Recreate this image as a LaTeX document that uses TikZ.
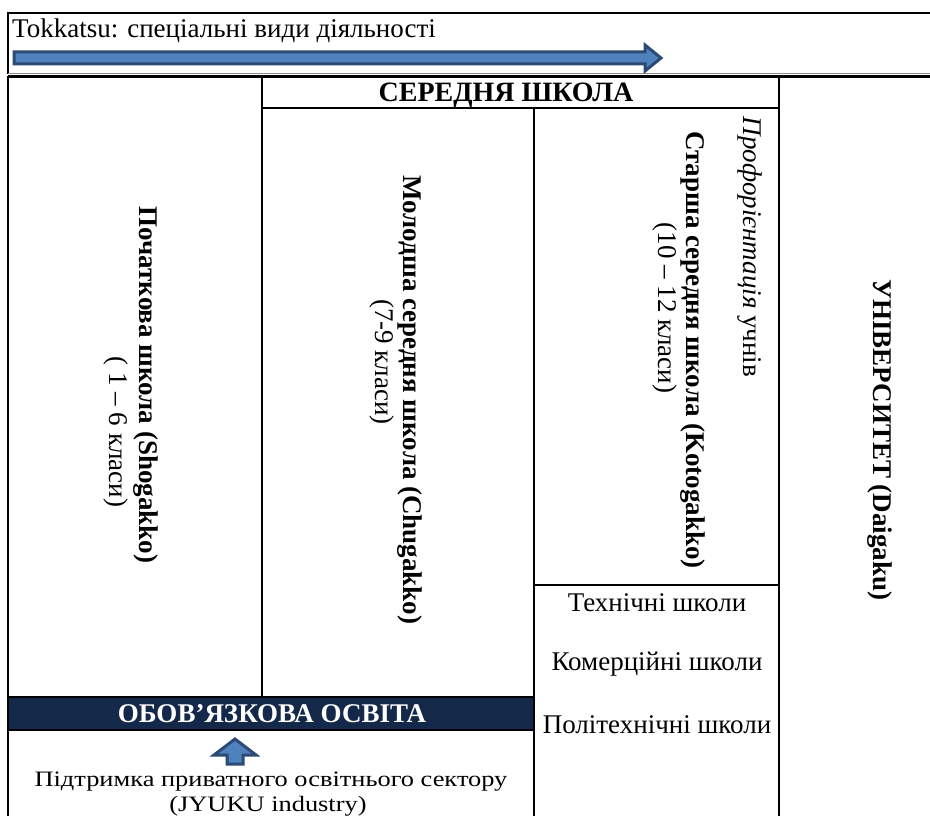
\documentclass[tikz,border=0pt]{standalone}
\usepackage{fontspec}
\setmainfont{Liberation Serif}
\definecolor{barnavy}{HTML}{14294A}
\definecolor{arrfill}{HTML}{4F81BD}
\definecolor{arrline}{HTML}{2C4A74}
\begin{document}
\begin{tikzpicture}[x=1pt,y=-1pt,
  rule/.style={line width=2.2pt, black},
  txt/.style={font=\fontsize{27}{30}\selectfont, inner sep=0pt},
  btxt/.style={font=\fontsize{27}{30}\selectfont\bfseries, inner sep=0pt},
  stxt/.style={font=\fontsize{22}{25}\selectfont, inner sep=0pt, anchor=base},
  vert/.style={rotate=-90},
  blockarrow/.style={fill=arrfill, draw=arrline, line width=3pt, line join=miter}]
\useasboundingbox (0,0) rectangle (930,816);
% top box
\draw[rule] (950,13) -- (8,13) -- (8,74);
\draw[line width=1pt, black!45] (8,74) -- (950,74);
\draw[rule] (8,76.5) -- (950,76.5);
% table frame
\draw[rule] (8,76) -- (8,820);
\draw[rule] (262,76) -- (262,697);
\draw[rule] (262,108) -- (779,108);
\draw[rule] (534,108) -- (534,820);
\draw[rule] (779,76) -- (779,820);
\draw[rule] (534,585) -- (779,585);
% obligatory bar
\fill[barnavy, draw=black, line width=2pt] (8,697) rectangle (534,730);
% tokkatsu arrow
\draw[blockarrow] (14,52) -- (645,52) -- (645,45) -- (661,58) -- (645,71) -- (645,64) -- (14,64) -- cycle;
% up arrow
\draw[blockarrow] (227,764) -- (227,755) -- (214,755) -- (235,739) -- (256,755) -- (243,755) -- (243,764) -- cycle;
% texts
\node[txt, anchor=west] (tok) at (12,31) {Tokkatsu: спеціальні види діяльності};
\node[btxt, font=\fontsize{28}{30}\selectfont\bfseries, anchor=base] (sered) at (506,101.5) {СЕРЕДНЯ ШКОЛА};
\node[btxt, vert] (poch) at (146,385) {Початкова школа (Shogakko)};
\node[txt, vert] (poch2) at (116,432) {( 1 – 6 класи)};
\node[btxt, vert] (mol) at (410,400) {Молодша середня школа (Chugakko)};
\node[txt, vert] (mol2) at (382,362) {(7-9 класи)};
\node[txt, vert] (prof) at (750,247) {\textit{Профорієнтація} учнів};
\node[btxt, vert] (star) at (693,350) {Старша середня школа (Kotogakko)};
\node[txt, vert] (star2) at (665,308) {(10 – 12 класи)};
\node[btxt, vert] (univ) at (880,440) {УНІВЕРСИТЕТ (Daigaku)};
\node[txt] (tech) at (657,603) {Технічні школи};
\node[txt] (kom) at (657,664) {Комерційні школи};
\node[txt] (poli) at (657,725) {Політехнічні школи};
\node[btxt, text=white] (obov) at (272,714) {ОБОВ’ЯЗКОВА ОСВІТА};
\node[stxt] (pid) at (271,786) {\scalebox{1.2}[1]{Підтримка приватного освітнього сектору}};
\node[stxt] (jyuku) at (268,811) {\scalebox{1.2}[1]{(JYUKU industry)}};
\end{tikzpicture}
\end{document}
